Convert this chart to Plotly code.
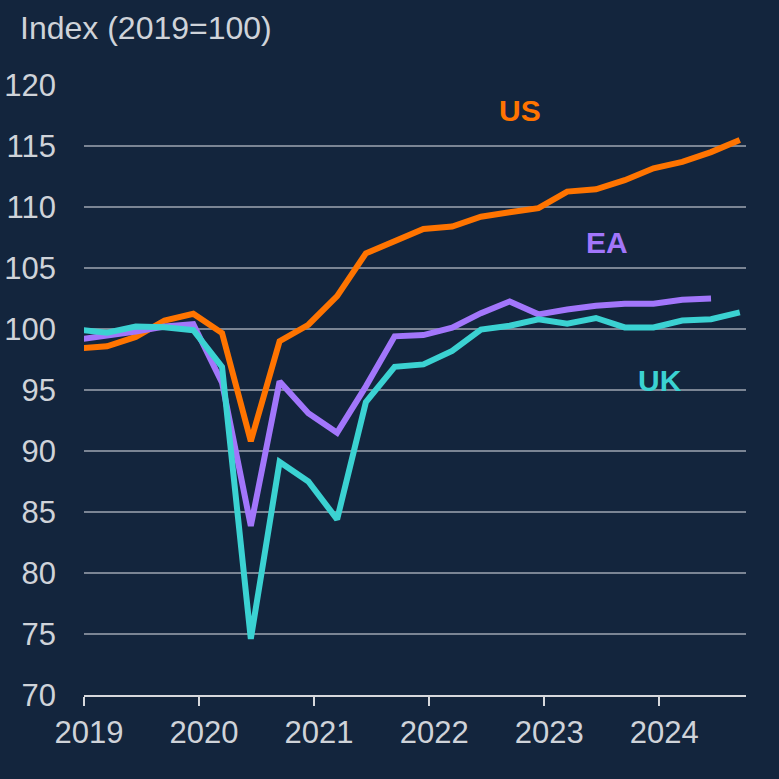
import plotly.graph_objects as go

# Quarterly GDP index (2019=100), 2018Q4 .. 2024Q3
quarters = ["2018Q4",
            "2019Q1", "2019Q2", "2019Q3", "2019Q4",
            "2020Q1", "2020Q2", "2020Q3", "2020Q4",
            "2021Q1", "2021Q2", "2021Q3", "2021Q4",
            "2022Q1", "2022Q2", "2022Q3", "2022Q4",
            "2023Q1", "2023Q2", "2023Q3", "2023Q4",
            "2024Q1", "2024Q2", "2024Q3"]

us = [98.42, 98.58, 99.35, 100.7, 101.25, 99.67, 90.8, 99.0, 100.35,
      102.7, 106.2, 107.2, 108.2, 108.4, 109.2, 109.57, 109.9,
      111.26, 111.45, 112.2, 113.17, 113.7, 114.5, 115.5]
ea = [99.14, 99.45, 99.8, 100.2, 100.4, 95.6, 83.85, 95.7, 93.1,
      91.5, 95.3, 99.4, 99.5, 100.1, 101.3, 102.26, 101.2,
      101.6, 101.9, 102.07, 102.07, 102.4, 102.5]
uk = [99.95, 99.7, 100.2, 100.15, 99.9, 96.9, 74.6, 89.1, 87.5,
      84.4, 94.0, 96.9, 97.1, 98.2, 99.95, 100.27, 100.8,
      100.43, 100.9, 100.13, 100.13, 100.7, 100.8, 101.36]

year_ticks = [2019, 2020, 2021, 2022, 2023, 2024]
y_ticks = [70, 75, 80, 85, 90, 95, 100, 105, 110, 115, 120]

def qpos(q):
    # plotting position of a quarter on the decimal-year axis
    return int(q[:4]) + (int(q[-1]) - 1) / 4 + 0.2

xs = [qpos(q) for q in quarters]

BG = "#13253d"
TXT = "#cfd3d9"
C_US = "#ff7400"
C_EA = "#a276fb"
C_UK = "#3bd2d2"
FONT = "Liberation Sans, Arial, sans-serif"

fig = go.Figure()
for name, vals, col in [("US", us, C_US), ("EA", ea, C_EA), ("UK", uk, C_UK)]:
    fig.add_trace(go.Scatter(x=xs[:len(vals)], y=vals, mode="lines", name=name,
                             line=dict(color=col, width=6), showlegend=False,
                             hoverinfo="skip"))

for text, x, y, col in [("US", 2022.786, 117.87, C_US),
                        ("EA", 2023.55, 107.13, C_EA),
                        ("UK", 2024.006, 95.82, C_UK)]:
    fig.add_annotation(x=x, y=y, text="<b>%s</b>" % text, showarrow=False,
                       font=dict(color=col, size=30, family=FONT),
                       xanchor="center", yanchor="middle")

fig.add_annotation(xref="paper", yref="paper", x=-0.099, y=1.0, yshift=57,
                   text="Index (2019=100)", showarrow=False,
                   xanchor="left", yanchor="middle",
                   font=dict(color=TXT, size=32, family=FONT))

fig.update_layout(
    width=779, height=779,
    paper_bgcolor=BG, plot_bgcolor=BG,
    margin=dict(l=84, r=33, t=85, b=84, autoexpand=False),
    font=dict(family=FONT, color=TXT, size=31),
    xaxis=dict(range=[2019, 2024.754], tickvals=year_ticks,
               ticktext=[str(y) for y in year_ticks],
               showgrid=False, zeroline=False, automargin=False,
               showline=True, linecolor="#d6d8dc", linewidth=2,
               ticks="outside", ticklen=9, tickwidth=2, tickcolor="#d6d8dc",
               tickfont=dict(size=31, color=TXT), ticklabelshift=5,
               ticklabelstandoff=0),
    yaxis=dict(range=[70, 120], tickvals=y_ticks, automargin=False,
               showgrid=True, gridcolor="#7b8594", gridwidth=2,
               zeroline=False, showline=False, ticks="",
               tickfont=dict(size=31, color=TXT), ticklabelstandoff=27),
)

fig.write_html("out.html",
               config={"displayModeBar": False},
               post_script="document.body.style.margin='0';"
                           "document.body.style.background='%s';" % BG)
